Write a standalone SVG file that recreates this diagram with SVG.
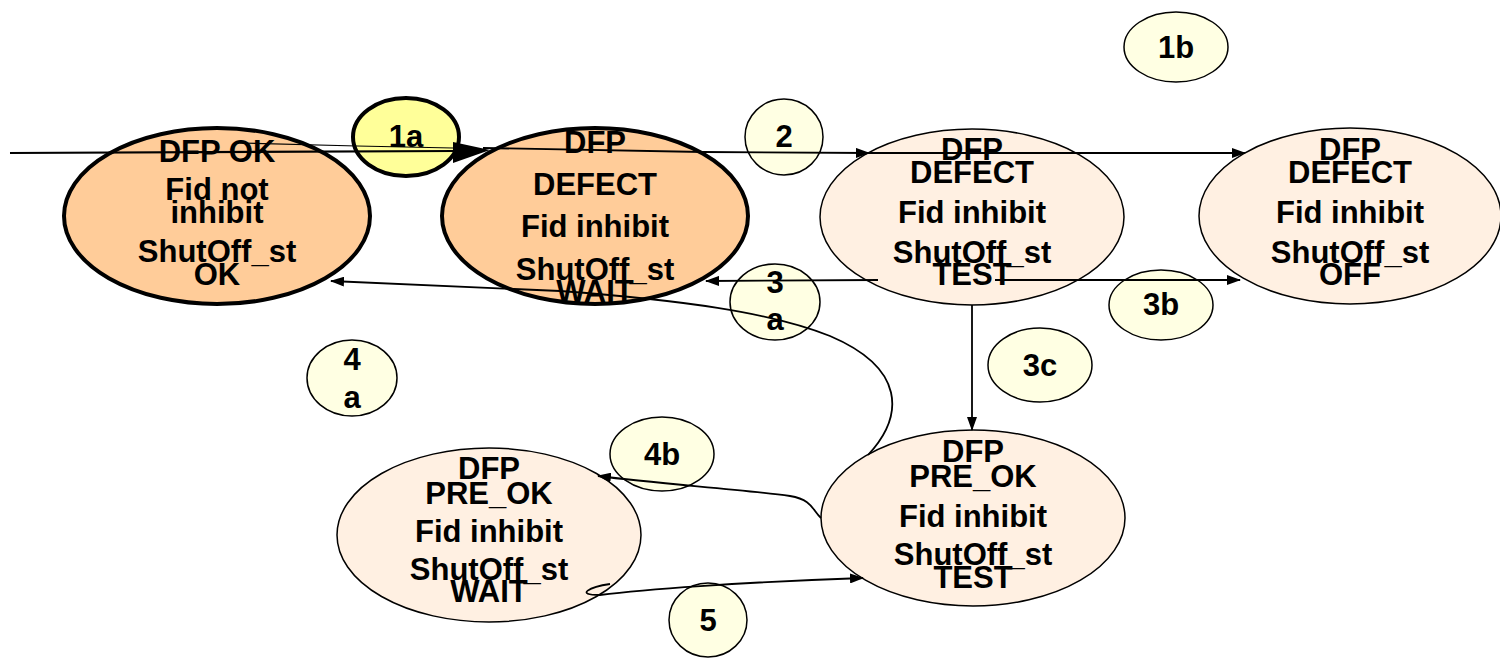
<svg xmlns="http://www.w3.org/2000/svg" width="1500" height="658" viewBox="0 0 1500 658">
<style>
.t{font-family:"Liberation Sans",Arial,sans-serif;font-weight:bold;font-size:31px;fill:#000;text-anchor:middle}
.sd{fill:#FFCC99;stroke:#000;stroke-width:4}
.sl{fill:#FFF0E2;stroke:#000;stroke-width:1.5}
.lb{fill:#FFFFE3;stroke:#000;stroke-width:1.5}
.c{fill:none;stroke:#000;stroke-width:1.8}
</style>
<defs>
<marker id="ah" viewBox="0 0 14 10" refX="13" refY="5" markerWidth="14" markerHeight="10" markerUnits="userSpaceOnUse" orient="auto">
<path d="M0,0 L14,5 L0,10 Z" fill="#000"/>
</marker>
</defs>
<rect width="1500" height="658" fill="#fff"/>
<g id="n1">
<ellipse class="sd" cx="217" cy="216" rx="153" ry="88"/>
<text class="t" x="217" y="162">DFP OK</text>
<text class="t" x="217" y="200">Fid not</text>
<text class="t" x="217" y="223">inhibit</text>
<text class="t" x="217" y="262">ShutOff_st</text>
<text class="t" x="217" y="285">OK</text>
</g>
<g id="n2">
<ellipse class="sd" cx="595" cy="216" rx="153" ry="88"/>
<text class="t" x="595" y="153">DFP</text>
<text class="t" x="595" y="195">DEFECT</text>
<text class="t" x="595" y="237">Fid inhibit</text>
<text class="t" x="595" y="280">ShutOff_st</text>
<text class="t" x="595" y="302">WAIT</text>
</g>
<g id="n3">
<ellipse class="sl" cx="972" cy="217" rx="152" ry="88"/>
<text class="t" x="972" y="160">DFP</text>
<text class="t" x="972" y="183">DEFECT</text>
<text class="t" x="972" y="223">Fid inhibit</text>
<text class="t" x="972" y="263">ShutOff_st</text>
<text class="t" x="972" y="285">TEST</text>
</g>
<g id="n4">
<ellipse class="sl" cx="1350" cy="216" rx="151" ry="88"/>
<text class="t" x="1350" y="160">DFP</text>
<text class="t" x="1350" y="183">DEFECT</text>
<text class="t" x="1350" y="223">Fid inhibit</text>
<text class="t" x="1350" y="263">ShutOff_st</text>
<text class="t" x="1350" y="285">OFF</text>
</g>
<g id="n5">
<ellipse class="sl" cx="489" cy="535" rx="152" ry="87"/>
<text class="t" x="489" y="479">DFP</text>
<text class="t" x="489" y="504">PRE_OK</text>
<text class="t" x="489" y="542">Fid inhibit</text>
<text class="t" x="489" y="580">ShutOff_st</text>
<text class="t" x="489" y="602">WAIT</text>
</g>
<g id="n6">
<ellipse class="sl" cx="973" cy="518" rx="152" ry="88"/>
<text class="t" x="973" y="462">DFP</text>
<text class="t" x="973" y="487">PRE_OK</text>
<text class="t" x="973" y="527">Fid inhibit</text>
<text class="t" x="973" y="565">ShutOff_st</text>
<text class="t" x="973" y="588">TEST</text>
</g>
<g id="l1a">
<ellipse cx="406" cy="137" rx="53" ry="39" fill="#FFFF99" stroke="#000" stroke-width="4"/>
<text class="t" x="406" y="147">1a</text>
</g>
<g id="l1b">
<ellipse class="lb" cx="1176" cy="47" rx="52" ry="35"/>
<text class="t" x="1176" y="58">1b</text>
</g>
<g id="l2">
<ellipse class="lb" cx="784" cy="137" rx="39" ry="38"/>
<text class="t" x="784" y="147">2</text>
</g>
<g id="l3a">
<ellipse class="lb" cx="775" cy="302" rx="45" ry="38"/>
<text class="t" x="775" y="293">3</text>
<text class="t" x="775" y="330">a</text>
</g>
<g id="l3b">
<ellipse class="lb" cx="1161" cy="305" rx="52" ry="35"/>
<text class="t" x="1161" y="315">3b</text>
</g>
<g id="l3c">
<ellipse class="lb" cx="1040" cy="365" rx="52" ry="37"/>
<text class="t" x="1040" y="376">3c</text>
</g>
<g id="l4a">
<ellipse class="lb" cx="352" cy="378" rx="45" ry="38"/>
<text class="t" x="352" y="370">4</text>
<text class="t" x="352" y="408">a</text>
</g>
<g id="l4b">
<ellipse class="lb" cx="662" cy="454" rx="52" ry="37"/>
<text class="t" x="662" y="465">4b</text>
</g>
<g id="l5">
<ellipse class="lb" cx="708" cy="620" rx="39" ry="37"/>
<text class="t" x="708" y="631">5</text>
</g>
<g id="connectors">
<path d="M10,153 L455,151" fill="none" stroke="#000" stroke-width="2.2"/>
<path d="M240,143 L357,146 L453,148" fill="none" stroke="#000" stroke-width="1.2"/>
<path d="M453,142 L490,150 L453,163 Z" fill="#000"/>
<path class="c" d="M483,148 L703,152 L869,153" marker-end="url(#ah)"/>
<path class="c" d="M869,153 L1245,153" marker-end="url(#ah)"/>
<path class="c" d="M878,280 L706,281" marker-end="url(#ah)"/>
<path class="c" d="M995,280 L1240,280" marker-end="url(#ah)"/>
<path class="c" d="M972,305 L972,430" marker-end="url(#ah)"/>
<path class="c" d="M868,455 C905,415 905,368 830,336 C770,312 680,300 560,291 L331,281" marker-end="url(#ah)"/>
<path class="c" d="M821,518 C812,510 813,500 790,496 C740,489 660,484 598,476" marker-end="url(#ah)"/>
<path class="c" d="M610,584 C590,587 574,595 600,595 C640,590 740,582 863,578" marker-end="url(#ah)"/>
</g>
</svg>
